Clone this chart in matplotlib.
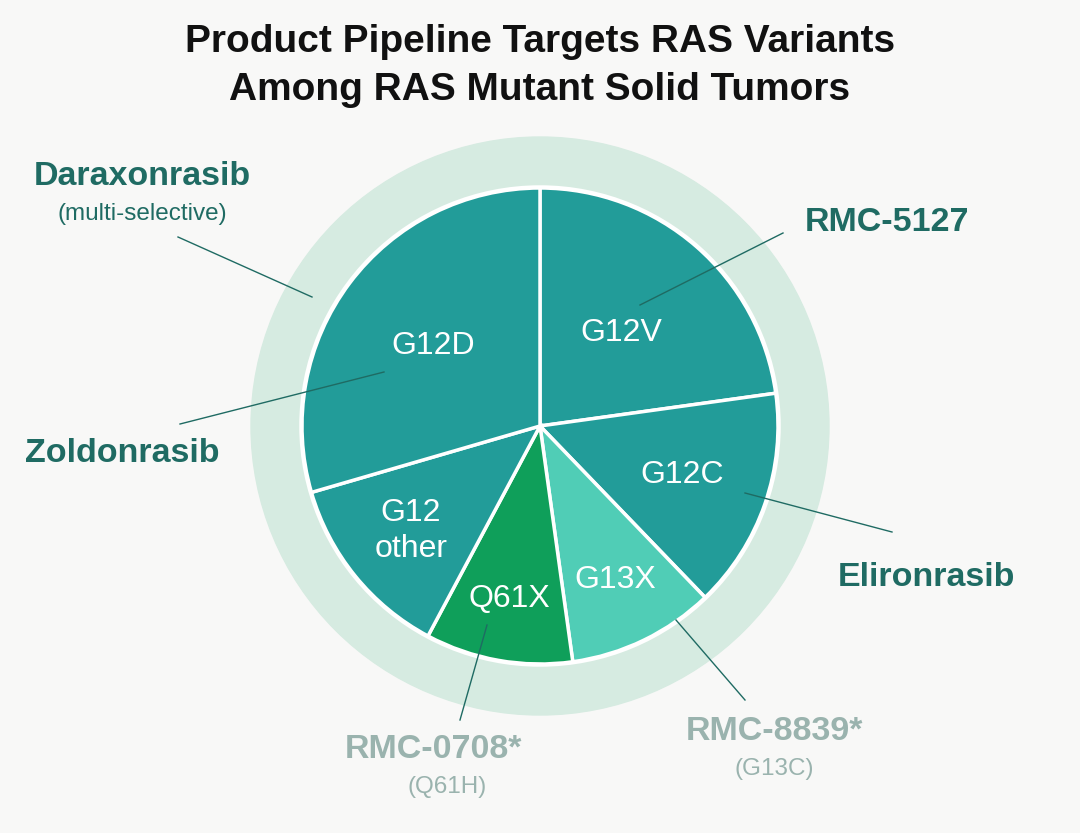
import matplotlib.pyplot as plt
import numpy as np

plt.rcParams['font.family'] = ['Liberation Sans', 'DejaVu Sans']

# slice shares, clockwise from 12 o'clock
variants = ["G12V", "G12C", "G13X", "Q61X", "G12\nother", "G12D"]
shares = [22.8, 15.0, 10.0, 10.0, 12.7, 29.5]
label_r = [0.52, 0.63, 0.72, 0.74, 0.70, 0.56]

TEAL = "#229c99"
GREEN = "#0f9f5a"
MINT = "#50cdb6"
colors = [TEAL, TEAL, MINT, GREEN, TEAL, TEAL]

BG = "#f8f8f7"
RING = "#d6ebe1"
DARK = "#1f6b63"
GREY = "#9ab3ae"

W, H = 1080, 833
cx, cy = 540, H - 426
R = 238
R_RING = 289

fig = plt.figure(figsize=(W / 100, H / 100), dpi=100, facecolor=BG)
ax = fig.add_axes([0, 0, 1, 1])
ax.set_facecolor(BG)

ax.add_patch(plt.Circle((cx, cy), R_RING, color=RING, zorder=0))

wedges, _ = ax.pie(shares, colors=colors, startangle=90, counterclock=False,
                   center=(cx, cy), radius=R, frame=True,
                   wedgeprops=dict(edgecolor="white", linewidth=2.5))
ax.set_xlim(0, W)
ax.set_ylim(0, H)
ax.set_aspect("equal")
ax.axis("off")
ax.add_patch(plt.Circle((cx, cy), R + 1, fill=False, edgecolor="white", lw=2.5, zorder=3))

for w, name, rf in zip(wedges, variants, label_r):
    a = np.deg2rad((w.theta1 + w.theta2) / 2)
    ax.text(cx + rf * R * np.cos(a), cy + rf * R * np.sin(a), name,
            color="white", fontsize=23, ha="center", va="center",
            linespacing=1.3, zorder=4)

# drug callouts: (name, sub, text xy, line start, line end, colour)
callouts = [
    ("Daraxonrasib", "(multi-selective)", (142, 176), (178, 237), (312, 297), DARK),
    ("Zoldonrasib", None, (122, 453), (180, 424), (384, 372), DARK),
    ("RMC-5127", None, (887, 222), (783, 233), (640, 305), DARK),
    ("Elironrasib", None, (926, 578), (892, 532), (745, 493), DARK),
    ("RMC-0708*", "(Q61H)", (433, 749), (460, 720), (487, 625), GREY),
    ("RMC-8839*", "(G13C)", (774, 731), (745, 700), (676, 620), GREY),
]
for name, sub, (tx, ty), (x0, y0), (x1, y1), col in callouts:
    ax.plot([x0, x1], [H - y0, H - y1], color=DARK, lw=1.0, zorder=5)
    ax.text(tx, H - ty, name, color=col, fontsize=24.5, fontweight="bold",
            ha="center", va="center")
    if sub:
        ax.text(tx + (14 if sub == "(Q61H)" else 0), H - ty - 38, sub, color=col,
                fontsize=17.5, ha="center", va="center")

ax.text(W / 2, H - 66, "Product Pipeline Targets RAS Variants\nAmong RAS Mutant Solid Tumors",
        color="#111111", fontsize=28, fontweight="bold", ha="center", va="center",
        linespacing=1.42)

fig.savefig("out.png", dpi=100, facecolor=BG)
